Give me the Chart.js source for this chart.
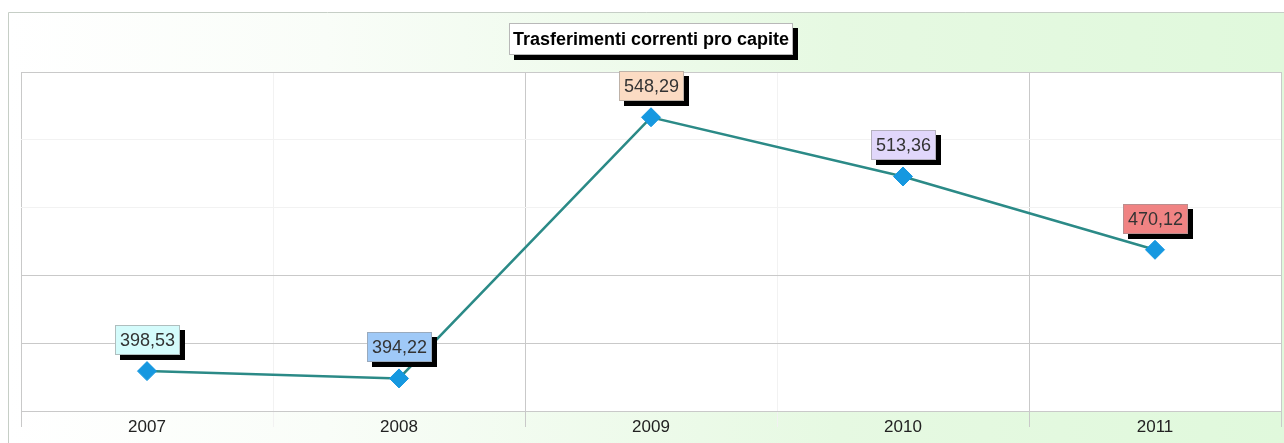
<!DOCTYPE html>
<html lang="it">
<head>
<meta charset="utf-8">
<title>Trasferimenti correnti pro capite</title>
<script src="https://cdn.jsdelivr.net/npm/chart.js@4/dist/chart.umd.min.js"></script>
<style>
  html, body { margin: 0; padding: 0; background: #fff; }
  #wrap { width: 1284px; height: 443px; }
</style>
</head>
<body>
<div id="wrap"><canvas id="trasferimentiChart" width="1284" height="443"></canvas></div>
<script>
const anni = ['2007', '2008', '2009', '2010', '2011']
const procapite = [398.53, 394.22, 548.29, 513.36, 470.12]
const coloriEtichette = ['#d4fbfb', '#9fc9f7', '#fbdbc3', '#e1d7fb', '#f08383']

const gridStrong = '#c9c9c9'
const gridFaint = '#f2f2f2'
const fontFamily = '"Liberation Sans", Arial, sans-serif'

const formatValore = (v) => v.toFixed(2).replace('.', ',')

// cornice verde sfumata e sfondo bianco dell'area del grafico
const sfondo = {
    id: 'sfondo',
    beforeDraw(chart) {
        const {ctx, width, height, chartArea} = chart
        ctx.save()
        ctx.fillStyle = '#ffffff'
        ctx.fillRect(0, 0, width, height)
        const grad = ctx.createLinearGradient(8, 0, width, 0)
        grad.addColorStop(0, '#ffffff')
        grad.addColorStop(0.25, '#f9fdf8')
        grad.addColorStop(0.65, '#e6f9e2')
        grad.addColorStop(1, '#e0f9dc')
        ctx.fillStyle = grad
        ctx.fillRect(8, 12, width - 8, height - 12)
        ctx.strokeStyle = '#c6cec6'
        ctx.lineWidth = 1
        ctx.beginPath()
        ctx.moveTo(8.5, height)
        ctx.lineTo(8.5, 12.5)
        ctx.lineTo(width, 12.5)
        ctx.stroke()
        ctx.fillStyle = '#ffffff'
        ctx.fillRect(chartArea.left, chartArea.top, chartArea.right - chartArea.left, chartArea.bottom - chartArea.top)

        // riquadro del titolo con ombra
        const tb = chart.titleBlock
        if (tb) {
            const t = chart.options.plugins.title
            ctx.font = t.font.weight + ' ' + t.font.size + 'px ' + t.font.family
            const w = Math.round(ctx.measureText(t.text).width + 8)
            const cx = (tb.left + tb.right) / 2
            const cy = tb.top + tb.options.padding.top + 10
            const x = Math.round(cx - w / 2), y = Math.round(cy - 16), h = 32
            ctx.fillStyle = '#000'
            ctx.fillRect(x + 5, y + 5, w, h)
            ctx.fillStyle = '#fff'
            ctx.fillRect(x, y, w, h)
            ctx.strokeStyle = '#b8b8b8'
            ctx.strokeRect(x + 0.5, y + 0.5, w - 1, h - 1)
        }
        ctx.restore()
    }
}

// etichette dei valori in riquadri colorati con ombra
const etichette = {
    id: 'etichette',
    afterDatasetsDraw(chart) {
        const {ctx} = chart
        const meta = chart.getDatasetMeta(0)
        ctx.save()
        ctx.font = '18px ' + fontFamily
        ctx.textAlign = 'center'
        ctx.textBaseline = 'middle'
        meta.data.forEach((pt, i) => {
            const testo = formatValore(procapite[i])
            const w = Math.round(ctx.measureText(testo).width + 10)
            const h = 30
            const x = Math.round(pt.x - w / 2)
            const y = Math.round(pt.y - 16 - h)
            ctx.fillStyle = '#000'
            ctx.fillRect(x + 5, y + 5, w, h)
            ctx.fillStyle = coloriEtichette[i]
            ctx.fillRect(x, y, w, h)
            ctx.strokeStyle = 'rgba(150,150,150,0.6)'
            ctx.lineWidth = 1
            ctx.strokeRect(x + 0.5, y + 0.5, w - 1, h - 1)
            ctx.fillStyle = '#333'
            ctx.fillText(testo, x + w / 2, y + h / 2 + 1)
        })
        ctx.restore()
    }
}

const coloreX = (c) => {
    if (c.index === undefined) return gridStrong
    return c.index % 2 === 0 ? gridStrong : gridFaint
}
const coloreY = (c) => {
    if (c.index === undefined) return gridStrong
    return c.index <= 2 || c.index === 5 ? gridStrong : gridFaint
}

const canvas = document.getElementById('trasferimentiChart')
new Chart(canvas, {
    type: 'line',
    data: {
        labels: anni,
        datasets: [{
            label: 'Trasferimenti correnti pro capite',
            data: procapite,
            borderColor: '#2b8a87',
            borderWidth: 2.5,
            pointStyle: 'rectRot',
            pointRadius: 9.5,
            pointHoverRadius: 9.5,
            pointBackgroundColor: '#1698e0',
            pointBorderColor: '#1698e0',
            pointBorderWidth: 1,
            tension: 0,
            fill: false
        }]
    },
    options: {
        responsive: false,
        animation: false,
        layout: {autoPadding: false, padding: {left: 21, right: 3, top: 0, bottom: 0}},
        plugins: {
            legend: {display: false},
            tooltip: {enabled: false},
            title: {
                display: true,
                text: 'Trasferimenti correnti pro capite',
                color: '#000',
                font: {family: fontFamily, size: 18, weight: 'bold'},
                padding: {top: 29, bottom: 21.4}
            }
        },
        scales: {
            x: {
                offset: true,
                grid: {
                    offset: true,
                    color: coloreX,
                    tickColor: coloreX,
                    tickLength: 16,
                    lineWidth: 1
                },
                border: {display: false},
                ticks: {
                    color: '#222',
                    padding: -10,
                    font: {family: fontFamily, size: 17}
                },
                afterFit: (scale) => { scale.height = 32 }
            },
            y: {
                min: 375,
                max: 575,
                ticks: {display: false, stepSize: 40},
                grid: {color: coloreY, drawTicks: false, lineWidth: 1},
                border: {display: false}
            }
        }
    },
    plugins: [sfondo, etichette]
})
</script>
</body>
</html>
